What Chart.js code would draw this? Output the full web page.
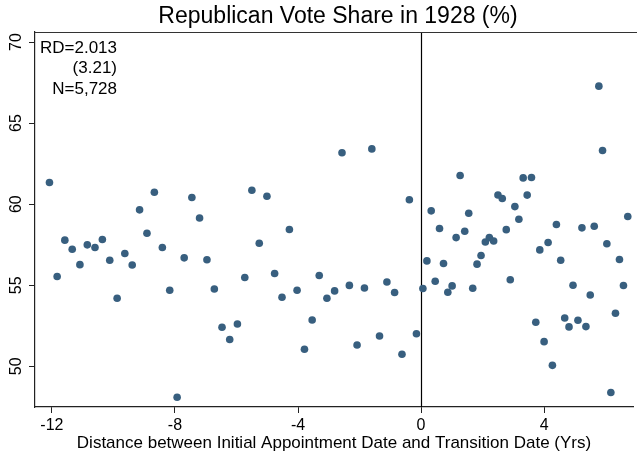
<!DOCTYPE html>
<html>
<head>
<meta charset="utf-8">
<title>Republican Vote Share in 1928 (%)</title>
<script src="https://cdn.jsdelivr.net/npm/chart.js@4"></script>
<style>
  html, body { margin: 0; padding: 0; background: #fff; }
  #wrap { width: 637px; height: 454px; position: relative; }
</style>
</head>
<body>
<div id="wrap"><canvas id="rdPlot"></canvas></div>
<script>
// binned means, left of the cutoff (years before transition)
const leftX = [-12.08, -11.83, -11.58, -11.34, -11.09, -10.85, -10.60, -10.36, -10.12, -9.88,
  -9.63, -9.39, -9.15, -8.91, -8.67, -8.41, -8.17, -7.93, -7.70, -7.45,
  -7.20, -6.96, -6.72, -6.47, -6.22, -5.97, -5.73, -5.50, -5.26, -5.01,
  -4.76, -4.52, -4.28, -4.03, -3.79, -3.54, -3.31, -3.06, -2.81, -2.57,
  -2.33, -2.08, -1.84, -1.60, -1.35, -1.11, -0.86, -0.62, -0.38, -0.15];
const leftY = [61.34, 55.54, 57.78, 57.22, 56.27, 57.49, 57.33, 57.82, 56.54, 54.20,
  56.96, 56.25, 59.65, 58.21, 60.74, 57.33, 54.69, 48.09, 56.69, 60.41,
  59.15, 56.57, 54.77, 52.41, 51.65, 52.61, 55.48, 60.86, 57.59, 60.49,
  55.72, 54.26, 58.44, 54.69, 51.05, 52.86, 55.60, 54.20, 54.65, 63.17,
  54.99, 51.31, 54.83, 63.41, 51.87, 55.20, 54.55, 50.74, 60.27, 52.01];

// binned means, right of the cutoff
const rightX = [0.06, 0.19, 0.33, 0.46, 0.60, 0.73, 0.87, 1.01, 1.14, 1.27,
  1.42, 1.55, 1.68, 1.82, 1.95, 2.09, 2.22, 2.36, 2.50, 2.64,
  2.77, 2.90, 3.05, 3.18, 3.32, 3.45, 3.59, 3.73, 3.86, 4.00,
  4.13, 4.27, 4.40, 4.54, 4.67, 4.81, 4.94, 5.10, 5.23, 5.36,
  5.50, 5.63, 5.78, 5.90, 6.04, 6.17, 6.32, 6.45, 6.58, 6.72];
const rightY = [54.80, 56.50, 59.59, 55.25, 58.50, 56.34, 54.57, 54.96, 57.94, 61.77,
  58.33, 59.44, 54.81, 56.30, 56.83, 57.67, 57.94, 57.73, 60.57, 60.35,
  58.43, 55.34, 59.85, 59.07, 61.62, 60.56, 61.65, 52.72, 57.18, 51.52,
  57.64, 50.06, 58.75, 56.54, 52.98, 52.43, 55.00, 52.84, 58.54, 52.45,
  54.40, 58.64, 67.28, 63.31, 57.56, 48.38, 53.27, 56.59, 54.98, 59.24];

const xTicks = [-12, -8, -4, 0, 4];
const yTicks = [50, 55, 60, 65, 70];
const cutoff = 0;
const statLines = ['RD=2.013', '(3.21)', 'N=5,728'];

const FONT = '"Liberation Sans", Arial, Helvetica, sans-serif';
const DOT = '#385f7f';

const toPoints = (xs, ys) => xs.map((x, i) => ({ x: x, y: ys[i] }));

// cutoff line, top frame, rotated y labels, title and RD estimate
const decorations = {
    id: 'decorations',
    beforeDatasetsDraw(chart) {
        const { ctx, chartArea, scales } = chart;
        const xc = Math.round(scales.x.getPixelForValue(cutoff)) + 0.5;
        ctx.save();
        ctx.strokeStyle = '#000';
        ctx.lineWidth = 1.2;
        ctx.beginPath();
        ctx.moveTo(xc, chartArea.top);
        ctx.lineTo(xc, chartArea.bottom);
        ctx.stroke();

        ctx.strokeStyle = '#333';
        ctx.lineWidth = 1.2;
        ctx.beginPath();
        ctx.moveTo(chartArea.left, chartArea.top + 0.5);
        ctx.lineTo(chart.width, chartArea.top + 0.5);
        ctx.stroke();
        ctx.restore();
    },
    afterDraw(chart) {
        const { ctx, scales } = chart;
        ctx.save();
        ctx.fillStyle = '#000';

        ctx.font = '16px ' + FONT;
        ctx.textAlign = 'center';
        ctx.textBaseline = 'middle';
        yTicks.forEach(v => {
            const py = scales.y.getPixelForValue(v);
            ctx.save();
            ctx.translate(17, py);
            ctx.rotate(-Math.PI / 2);
            ctx.fillText(String(v), 0, 0);
            ctx.restore();
        });

        ctx.font = '23px ' + FONT;
        ctx.fillText('Republican Vote Share in 1928 (%)', 338, 17);

        ctx.font = '17px ' + FONT;
        ctx.textAlign = 'right';
        statLines.forEach((s, i) => ctx.fillText(s, 117, 48 + i * 20.5));
        ctx.restore();
    }
};

new Chart(document.getElementById('rdPlot'), {
    type: 'scatter',
    data: {
        datasets: [
            { label: 'before', data: toPoints(leftX, leftY), backgroundColor: DOT, borderWidth: 0, pointRadius: 3.8 },
            { label: 'after', data: toPoints(rightX, rightY), backgroundColor: DOT, borderWidth: 0, pointRadius: 3.8 }
        ]
    },
    options: {
        responsive: true,
        maintainAspectRatio: false,
        animation: false,
        layout: { padding: { top: 32, left: 0, right: 0, bottom: 0 } },
        plugins: {
            legend: { display: false },
            tooltip: { enabled: false }
        },
        scales: {
            x: {
                type: 'linear',
                min: -12.55,
                max: 6.89,
                afterBuildTicks: s => { s.ticks = xTicks.map(v => ({ value: v })); },
                afterFit: s => { s.height = 47; s.paddingLeft = 0; s.paddingRight = 0; },
                grid: { drawOnChartArea: false, drawTicks: true, tickLength: 6, color: '#222', lineWidth: 1 },
                border: { display: true, color: '#222', width: 1.2 },
                ticks: { color: '#000', font: { family: FONT, size: 16 }, padding: 3, maxRotation: 0 },
                title: {
                    display: true,
                    text: 'Distance between Initial Appointment Date and Transition Date (Yrs)',
                    color: '#000',
                    font: { family: FONT, size: 17 },
                    padding: { top: 0, bottom: 0 }
                }
            },
            y: {
                type: 'linear',
                min: 47.49,
                max: 70.62,
                afterBuildTicks: s => { s.ticks = yTicks.map(v => ({ value: v })); },
                afterFit: s => { s.width = 35; },
                grid: { drawOnChartArea: false, drawTicks: true, tickLength: 6, color: '#222', lineWidth: 1 },
                border: { display: true, color: '#222', width: 1.2 },
                ticks: { display: false }
            }
        }
    },
    plugins: [decorations]
});
</script>
</body>
</html>
